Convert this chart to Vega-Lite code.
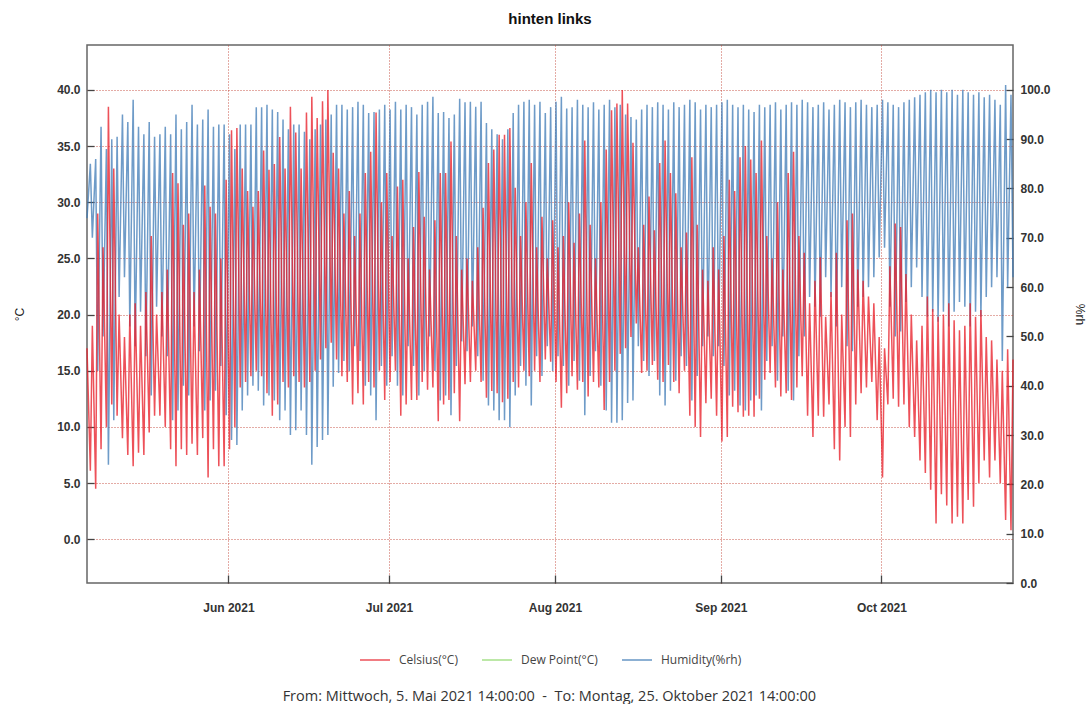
{
  "$schema": "https://vega.github.io/schema/vega-lite/v6.json",
  "background": "white",
  "padding": {"left": 12, "top": 11, "right": 4, "bottom": 0},
  "config": {
    "font": "Liberation Sans",
    "view": {"stroke": "#666", "strokeWidth": 1.5},
    "axis": {"labelFont": "Liberation Sans", "labelFontWeight": "bold", "labelFontSize": 12, "labelColor": "#333", "tickColor": "#444", "tickWidth": 1.3, "domain": false, "titleFont": "Liberation Sans", "titleFontWeight": "normal", "titleFontSize": 12, "titleColor": "#222", "gridColor": "#c0392b", "gridDash": [1, 2], "gridOpacity": 0.85, "gridWidth": 1},
    "legend": {"labelFont": "Open Sans", "labelFontSize": 12, "labelColor": "#444", "layout": {"bottom": {"anchor": "middle"}}}
  },
  "title": {"text": "From: Mittwoch, 5. Mai 2021 14:00:00\u00a0\u00a0-\u00a0\u00a0To: Montag, 25. Oktober 2021 14:00:00", "orient": "bottom", "anchor": "middle", "font": "Open Sans", "fontSize": 14.5, "fontWeight": "normal", "color": "#333", "offset": 24},
  "vconcat": [
    {
      "width": 926,
      "height": 538,
      "title": {"text": "hinten links", "font": "Liberation Sans", "fontSize": 15, "fontWeight": "bold", "color": "#111", "offset": 18},
      "data": {"values": [
        {"t":"2021-05-05T14:00","c":17,"h":74},
        {"t":"2021-05-06T05:00","c":6.1,"h":85},{"t":"2021-05-06T14:00","c":19,"h":70},
        {"t":"2021-05-07T05:00","c":4.5,"h":86},{"t":"2021-05-07T14:00","c":29,"h":43},
        {"t":"2021-05-08T05:00","c":8,"h":92.5},{"t":"2021-05-08T14:00","c":26,"h":50},
        {"t":"2021-05-09T05:00","c":10,"h":88},{"t":"2021-05-09T14:00","c":38.5,"h":24},
        {"t":"2021-05-10T05:00","c":12,"h":90},{"t":"2021-05-10T14:00","c":33,"h":33},
        {"t":"2021-05-11T05:00","c":11,"h":90.5},{"t":"2021-05-11T14:00","c":20,"h":58},
        {"t":"2021-05-12T05:00","c":9,"h":95},{"t":"2021-05-12T14:00","c":18,"h":62},
        {"t":"2021-05-13T05:00","c":7.5,"h":93.5},{"t":"2021-05-13T14:00","c":20,"h":52},
        {"t":"2021-05-14T05:00","c":6.5,"h":98},{"t":"2021-05-14T14:00","c":21,"h":48},
        {"t":"2021-05-15T05:00","c":7.7,"h":92.5},{"t":"2021-05-15T14:00","c":19,"h":55},
        {"t":"2021-05-16T05:00","c":7.5,"h":91},{"t":"2021-05-16T14:00","c":22,"h":46},
        {"t":"2021-05-17T05:00","c":9.5,"h":93.5},{"t":"2021-05-17T14:00","c":27,"h":38},
        {"t":"2021-05-18T05:00","c":11,"h":90.5},{"t":"2021-05-18T14:00","c":20,"h":56},
        {"t":"2021-05-19T05:00","c":11,"h":91},{"t":"2021-05-19T14:00","c":22,"h":50},
        {"t":"2021-05-20T05:00","c":10,"h":92.5},{"t":"2021-05-20T14:00","c":24,"h":46},
        {"t":"2021-05-21T05:00","c":8,"h":91},{"t":"2021-05-21T14:00","c":32.6,"h":33},
        {"t":"2021-05-22T05:00","c":6.5,"h":95},{"t":"2021-05-22T14:00","c":31.7,"h":35},
        {"t":"2021-05-23T05:00","c":8,"h":92},{"t":"2021-05-23T14:00","c":28,"h":40},
        {"t":"2021-05-24T05:00","c":7.5,"h":93.5},{"t":"2021-05-24T14:00","c":29,"h":38},
        {"t":"2021-05-25T05:00","c":8.5,"h":97},{"t":"2021-05-25T14:00","c":22,"h":52},
        {"t":"2021-05-26T05:00","c":7.5,"h":93},{"t":"2021-05-26T14:00","c":24,"h":47},
        {"t":"2021-05-27T05:00","c":9,"h":94},{"t":"2021-05-27T14:00","c":31.5,"h":35},
        {"t":"2021-05-28T05:00","c":5.5,"h":96},{"t":"2021-05-28T14:00","c":29.6,"h":37},
        {"t":"2021-05-29T05:00","c":8,"h":92.5},{"t":"2021-05-29T14:00","c":29,"h":39},
        {"t":"2021-05-30T05:00","c":6.5,"h":93},{"t":"2021-05-30T14:00","c":25,"h":44},
        {"t":"2021-05-31T05:00","c":6.5,"h":93},{"t":"2021-05-31T14:00","c":32,"h":34},
        {"t":"2021-06-01T05:00","c":8,"h":91},{"t":"2021-06-01T14:00","c":36.4,"h":29},
        {"t":"2021-06-02T05:00","c":10,"h":88},{"t":"2021-06-02T14:00","c":36.6,"h":28},
        {"t":"2021-06-03T05:00","c":13.5,"h":93},{"t":"2021-06-03T14:00","c":33,"h":35},
        {"t":"2021-06-04T05:00","c":14,"h":93},{"t":"2021-06-04T14:00","c":31,"h":38},
        {"t":"2021-06-05T05:00","c":14.5,"h":93},{"t":"2021-06-05T14:00","c":29.6,"h":40},
        {"t":"2021-06-06T05:00","c":15,"h":96.5},{"t":"2021-06-06T14:00","c":31,"h":39},
        {"t":"2021-06-07T05:00","c":14.5,"h":96.5},{"t":"2021-06-07T14:00","c":34.6,"h":36},
        {"t":"2021-06-08T05:00","c":13,"h":97},{"t":"2021-06-08T14:00","c":32.9,"h":38},
        {"t":"2021-06-09T05:00","c":11,"h":96},{"t":"2021-06-09T14:00","c":33.4,"h":37},
        {"t":"2021-06-10T05:00","c":12,"h":95.5},{"t":"2021-06-10T14:00","c":35.8,"h":33},
        {"t":"2021-06-11T05:00","c":14,"h":94},{"t":"2021-06-11T14:00","c":33,"h":35},
        {"t":"2021-06-12T05:00","c":13.5,"h":92},{"t":"2021-06-12T14:00","c":38.5,"h":30},
        {"t":"2021-06-13T05:00","c":14.5,"h":93},{"t":"2021-06-13T14:00","c":36.2,"h":31},
        {"t":"2021-06-14T05:00","c":14,"h":93},{"t":"2021-06-14T14:00","c":33,"h":35},
        {"t":"2021-06-15T05:00","c":13.5,"h":91.5},{"t":"2021-06-15T14:00","c":38,"h":30},
        {"t":"2021-06-16T05:00","c":14,"h":90},{"t":"2021-06-16T14:00","c":39.4,"h":24},
        {"t":"2021-06-17T05:00","c":15,"h":92},{"t":"2021-06-17T14:00","c":37.5,"h":27.6},
        {"t":"2021-06-18T05:00","c":16,"h":93},{"t":"2021-06-18T14:00","c":39,"h":29},
        {"t":"2021-06-19T05:00","c":17,"h":94},{"t":"2021-06-19T14:00","c":40,"h":30},
        {"t":"2021-06-20T05:00","c":17.5,"h":95},{"t":"2021-06-20T14:00","c":34.4,"h":39.8},
        {"t":"2021-06-21T05:00","c":16,"h":97},{"t":"2021-06-21T14:00","c":33,"h":42.6},
        {"t":"2021-06-22T05:00","c":14.5,"h":97},{"t":"2021-06-22T14:00","c":29,"h":45},
        {"t":"2021-06-23T05:00","c":14,"h":96},{"t":"2021-06-23T14:00","c":31,"h":43},
        {"t":"2021-06-24T05:00","c":12,"h":96.5},{"t":"2021-06-24T14:00","c":27,"h":48},
        {"t":"2021-06-25T05:00","c":13,"h":97.6},{"t":"2021-06-25T14:00","c":29,"h":45},
        {"t":"2021-06-26T05:00","c":12,"h":97},{"t":"2021-06-26T14:00","c":32.6,"h":40},
        {"t":"2021-06-27T05:00","c":14,"h":95.3},{"t":"2021-06-27T14:00","c":34.5,"h":38},
        {"t":"2021-06-28T05:00","c":13.5,"h":95.5},{"t":"2021-06-28T14:00","c":38,"h":33},
        {"t":"2021-06-29T05:00","c":15,"h":96},{"t":"2021-06-29T14:00","c":30,"h":44},
        {"t":"2021-06-30T05:00","c":12.4,"h":97},{"t":"2021-06-30T14:00","c":32.6,"h":40},
        {"t":"2021-07-01T05:00","c":14,"h":96},{"t":"2021-07-01T14:00","c":27,"h":46},
        {"t":"2021-07-02T05:00","c":15,"h":97.6},{"t":"2021-07-02T14:00","c":31.4,"h":40},
        {"t":"2021-07-03T05:00","c":11,"h":96},{"t":"2021-07-03T14:00","c":32,"h":38},
        {"t":"2021-07-04T05:00","c":12,"h":97},{"t":"2021-07-04T14:00","c":25,"h":48},
        {"t":"2021-07-05T05:00","c":12.4,"h":96.5},{"t":"2021-07-05T14:00","c":27.8,"h":44},
        {"t":"2021-07-06T05:00","c":12.4,"h":95},{"t":"2021-07-06T14:00","c":32.7,"h":38},
        {"t":"2021-07-07T05:00","c":14,"h":97},{"t":"2021-07-07T14:00","c":28.7,"h":43},
        {"t":"2021-07-08T05:00","c":13.3,"h":97.6},{"t":"2021-07-08T14:00","c":24,"h":50},
        {"t":"2021-07-09T05:00","c":13.5,"h":98.6},{"t":"2021-07-09T14:00","c":28.4,"h":43},
        {"t":"2021-07-10T05:00","c":10.5,"h":95.3},{"t":"2021-07-10T14:00","c":32.6,"h":37},
        {"t":"2021-07-11T05:00","c":12,"h":95.5},{"t":"2021-07-11T14:00","c":32.6,"h":38},
        {"t":"2021-07-12T05:00","c":12.4,"h":94.3},{"t":"2021-07-12T14:00","c":35.4,"h":34},
        {"t":"2021-07-13T05:00","c":13,"h":95},{"t":"2021-07-13T14:00","c":27,"h":44},
        {"t":"2021-07-14T05:00","c":10.5,"h":98.2},{"t":"2021-07-14T14:00","c":24,"h":49},
        {"t":"2021-07-15T05:00","c":13.8,"h":97.5},{"t":"2021-07-15T14:00","c":25,"h":47},
        {"t":"2021-07-16T05:00","c":14,"h":97.6},{"t":"2021-07-16T14:00","c":23,"h":52},
        {"t":"2021-07-17T05:00","c":15,"h":96.6},{"t":"2021-07-17T14:00","c":26,"h":46},
        {"t":"2021-07-18T05:00","c":14,"h":97.6},{"t":"2021-07-18T14:00","c":29.5,"h":41},
        {"t":"2021-07-19T05:00","c":12.6,"h":93.3},{"t":"2021-07-19T14:00","c":33.5,"h":36},
        {"t":"2021-07-20T05:00","c":13.2,"h":92},{"t":"2021-07-20T14:00","c":34.7,"h":35},
        {"t":"2021-07-21T05:00","c":13,"h":91},{"t":"2021-07-21T14:00","c":36,"h":33},
        {"t":"2021-07-22T05:00","c":12.2,"h":90},{"t":"2021-07-22T14:00","c":36,"h":33},
        {"t":"2021-07-23T05:00","c":12.5,"h":92},{"t":"2021-07-23T14:00","c":36.6,"h":31.6},
        {"t":"2021-07-24T05:00","c":14,"h":95.3},{"t":"2021-07-24T14:00","c":31.3,"h":38},
        {"t":"2021-07-25T05:00","c":13.5,"h":97},{"t":"2021-07-25T14:00","c":27,"h":44},
        {"t":"2021-07-26T05:00","c":15,"h":97.6},{"t":"2021-07-26T14:00","c":30,"h":40},
        {"t":"2021-07-27T05:00","c":14.5,"h":98},{"t":"2021-07-27T14:00","c":33.5,"h":36},
        {"t":"2021-07-28T05:00","c":15,"h":97},{"t":"2021-07-28T14:00","c":26,"h":46},
        {"t":"2021-07-29T05:00","c":14,"h":97.6},{"t":"2021-07-29T14:00","c":28.7,"h":42},
        {"t":"2021-07-30T05:00","c":16,"h":95.3},{"t":"2021-07-30T14:00","c":25,"h":48},
        {"t":"2021-07-31T05:00","c":15.8,"h":96.5},{"t":"2021-07-31T14:00","c":28.4,"h":43},
        {"t":"2021-08-01T05:00","c":14,"h":97.6},{"t":"2021-08-01T14:00","c":26,"h":46},
        {"t":"2021-08-02T05:00","c":11.7,"h":98.6},{"t":"2021-08-02T14:00","c":27,"h":44},
        {"t":"2021-08-03T05:00","c":13,"h":96.2},{"t":"2021-08-03T14:00","c":30,"h":40},
        {"t":"2021-08-04T05:00","c":14.5,"h":96.5},{"t":"2021-08-04T14:00","c":26.4,"h":45},
        {"t":"2021-08-05T05:00","c":13.3,"h":98},{"t":"2021-08-05T14:00","c":29,"h":41},
        {"t":"2021-08-06T05:00","c":14,"h":97},{"t":"2021-08-06T14:00","c":35.5,"h":34},
        {"t":"2021-08-07T05:00","c":12.7,"h":96.5},{"t":"2021-08-07T14:00","c":28,"h":42},
        {"t":"2021-08-08T05:00","c":14,"h":97.5},{"t":"2021-08-08T14:00","c":25,"h":47},
        {"t":"2021-08-09T05:00","c":13.5,"h":96},{"t":"2021-08-09T14:00","c":30,"h":40},
        {"t":"2021-08-10T05:00","c":11.5,"h":97},{"t":"2021-08-10T14:00","c":34.7,"h":35},
        {"t":"2021-08-11T05:00","c":14,"h":98},{"t":"2021-08-11T14:00","c":38.2,"h":32.5},
        {"t":"2021-08-12T05:00","c":15,"h":96.5},{"t":"2021-08-12T14:00","c":38.8,"h":32.5},
        {"t":"2021-08-13T05:00","c":16.5,"h":97},{"t":"2021-08-13T14:00","c":40,"h":33},
        {"t":"2021-08-14T05:00","c":17,"h":95},{"t":"2021-08-14T14:00","c":38.8,"h":36.5},
        {"t":"2021-08-15T05:00","c":18,"h":94.5},{"t":"2021-08-15T14:00","c":35.3,"h":37},
        {"t":"2021-08-16T05:00","c":19.2,"h":94},{"t":"2021-08-16T14:00","c":26,"h":48},
        {"t":"2021-08-17T05:00","c":14.8,"h":96},{"t":"2021-08-17T14:00","c":28,"h":45},
        {"t":"2021-08-18T05:00","c":15,"h":97},{"t":"2021-08-18T14:00","c":30.5,"h":42},
        {"t":"2021-08-19T05:00","c":15.5,"h":96.5},{"t":"2021-08-19T14:00","c":27.5,"h":45},
        {"t":"2021-08-20T05:00","c":14.2,"h":97.5},{"t":"2021-08-20T14:00","c":33.5,"h":38},
        {"t":"2021-08-21T05:00","c":14,"h":97},{"t":"2021-08-21T14:00","c":35.5,"h":36},
        {"t":"2021-08-22T05:00","c":15.5,"h":96},{"t":"2021-08-22T14:00","c":32.6,"h":39},
        {"t":"2021-08-23T05:00","c":14,"h":97.5},{"t":"2021-08-23T14:00","c":30.8,"h":41},
        {"t":"2021-08-24T05:00","c":13,"h":96.5},{"t":"2021-08-24T14:00","c":26,"h":46},
        {"t":"2021-08-25T05:00","c":15,"h":97},{"t":"2021-08-25T14:00","c":27.3,"h":44},
        {"t":"2021-08-26T05:00","c":11,"h":98},{"t":"2021-08-26T14:00","c":34,"h":37},
        {"t":"2021-08-27T05:00","c":10,"h":97.5},{"t":"2021-08-27T14:00","c":28,"h":42},
        {"t":"2021-08-28T05:00","c":9.1,"h":96},{"t":"2021-08-28T14:00","c":24,"h":48},
        {"t":"2021-08-29T05:00","c":12.1,"h":97},{"t":"2021-08-29T14:00","c":23,"h":50},
        {"t":"2021-08-30T05:00","c":12.5,"h":96.5},{"t":"2021-08-30T14:00","c":26,"h":46},
        {"t":"2021-08-31T05:00","c":11,"h":97},{"t":"2021-08-31T14:00","c":24,"h":48},
        {"t":"2021-09-01T05:00","c":8.7,"h":97.5},{"t":"2021-09-01T14:00","c":27,"h":44},
        {"t":"2021-09-02T05:00","c":9.1,"h":98},{"t":"2021-09-02T14:00","c":32,"h":38},
        {"t":"2021-09-03T05:00","c":11.8,"h":97},{"t":"2021-09-03T14:00","c":31,"h":39},
        {"t":"2021-09-04T05:00","c":11.3,"h":96.5},{"t":"2021-09-04T14:00","c":34,"h":36},
        {"t":"2021-09-05T05:00","c":10.9,"h":97},{"t":"2021-09-05T14:00","c":35,"h":35},
        {"t":"2021-09-06T05:00","c":11,"h":96},{"t":"2021-09-06T14:00","c":33.8,"h":37},
        {"t":"2021-09-07T05:00","c":10.9,"h":95.5},{"t":"2021-09-07T14:00","c":32.6,"h":38},
        {"t":"2021-09-08T05:00","c":12.5,"h":97},{"t":"2021-09-08T14:00","c":35.5,"h":35},
        {"t":"2021-09-09T05:00","c":14.2,"h":96.5},{"t":"2021-09-09T14:00","c":27,"h":45},
        {"t":"2021-09-10T05:00","c":14.8,"h":97},{"t":"2021-09-10T14:00","c":25,"h":48},
        {"t":"2021-09-11T05:00","c":13.5,"h":97.5},{"t":"2021-09-11T14:00","c":30,"h":41},
        {"t":"2021-09-12T05:00","c":12.7,"h":96},{"t":"2021-09-12T14:00","c":24,"h":50},
        {"t":"2021-09-13T05:00","c":13,"h":97},{"t":"2021-09-13T14:00","c":32.6,"h":39},
        {"t":"2021-09-14T05:00","c":12.4,"h":97.5},{"t":"2021-09-14T14:00","c":34.5,"h":37},
        {"t":"2021-09-15T05:00","c":13.5,"h":97},{"t":"2021-09-15T14:00","c":27,"h":46},
        {"t":"2021-09-16T05:00","c":14.5,"h":98},{"t":"2021-09-16T14:00","c":25.5,"h":50},
        {"t":"2021-09-17T05:00","c":11,"h":97.5},{"t":"2021-09-17T14:00","c":21,"h":58},
        {"t":"2021-09-18T05:00","c":9.1,"h":96.5},{"t":"2021-09-18T14:00","c":23,"h":56},
        {"t":"2021-09-19T05:00","c":11,"h":97},{"t":"2021-09-19T14:00","c":25.1,"h":54},
        {"t":"2021-09-20T05:00","c":10.9,"h":97.5},{"t":"2021-09-20T14:00","c":19.8,"h":62},
        {"t":"2021-09-21T05:00","c":12,"h":96},{"t":"2021-09-21T14:00","c":22,"h":58},
        {"t":"2021-09-22T05:00","c":8,"h":97},{"t":"2021-09-22T14:00","c":25.5,"h":52},
        {"t":"2021-09-23T05:00","c":7,"h":98},{"t":"2021-09-23T14:00","c":20,"h":60},
        {"t":"2021-09-24T05:00","c":10,"h":97.5},{"t":"2021-09-24T14:00","c":28.4,"h":48},
        {"t":"2021-09-25T05:00","c":9.1,"h":96.5},{"t":"2021-09-25T14:00","c":29,"h":47},
        {"t":"2021-09-26T05:00","c":12,"h":97.5},{"t":"2021-09-26T14:00","c":24,"h":56},
        {"t":"2021-09-27T05:00","c":13,"h":98},{"t":"2021-09-27T14:00","c":23,"h":58},
        {"t":"2021-09-28T05:00","c":13.5,"h":97},{"t":"2021-09-28T14:00","c":21.6,"h":60},
        {"t":"2021-09-29T05:00","c":14,"h":96.5},{"t":"2021-09-29T14:00","c":21,"h":62},
        {"t":"2021-09-30T05:00","c":10.6,"h":97},{"t":"2021-09-30T14:00","c":18,"h":66},
        {"t":"2021-10-01T05:00","c":5.5,"h":98},{"t":"2021-10-01T14:00","c":17,"h":68},
        {"t":"2021-10-02T05:00","c":12,"h":97.5},{"t":"2021-10-02T14:00","c":24.3,"h":56},
        {"t":"2021-10-03T05:00","c":12.5,"h":97},{"t":"2021-10-03T14:00","c":28.1,"h":50},
        {"t":"2021-10-04T05:00","c":11.8,"h":96.5},{"t":"2021-10-04T14:00","c":27.8,"h":51},
        {"t":"2021-10-05T05:00","c":12,"h":97.5},{"t":"2021-10-05T14:00","c":23.6,"h":57},
        {"t":"2021-10-06T05:00","c":10,"h":98},{"t":"2021-10-06T14:00","c":20,"h":60},
        {"t":"2021-10-07T05:00","c":9.1,"h":98.5},{"t":"2021-10-07T14:00","c":17.7,"h":64},
        {"t":"2021-10-08T05:00","c":7,"h":99},{"t":"2021-10-08T14:00","c":19,"h":58},
        {"t":"2021-10-09T05:00","c":5.9,"h":99.5},{"t":"2021-10-09T14:00","c":21.6,"h":54},
        {"t":"2021-10-10T05:00","c":4.4,"h":100},{"t":"2021-10-10T14:00","c":20.5,"h":55},
        {"t":"2021-10-11T05:00","c":1.4,"h":99.5},{"t":"2021-10-11T14:00","c":19.8,"h":53},
        {"t":"2021-10-12T05:00","c":4,"h":100},{"t":"2021-10-12T14:00","c":20,"h":55},
        {"t":"2021-10-13T05:00","c":3,"h":99.5},{"t":"2021-10-13T14:00","c":21,"h":52},
        {"t":"2021-10-14T05:00","c":1.4,"h":100},{"t":"2021-10-14T14:00","c":19.5,"h":55},
        {"t":"2021-10-15T05:00","c":2,"h":99},{"t":"2021-10-15T14:00","c":18.6,"h":57},
        {"t":"2021-10-16T05:00","c":1.4,"h":100},{"t":"2021-10-16T14:00","c":19,"h":56},
        {"t":"2021-10-17T05:00","c":3.5,"h":99.5},{"t":"2021-10-17T14:00","c":21,"h":52},
        {"t":"2021-10-18T05:00","c":2.9,"h":99},{"t":"2021-10-18T14:00","c":19.8,"h":55},
        {"t":"2021-10-19T05:00","c":5,"h":99.5},{"t":"2021-10-19T14:00","c":20.4,"h":54},
        {"t":"2021-10-20T05:00","c":7,"h":98.5},{"t":"2021-10-20T14:00","c":18,"h":58},
        {"t":"2021-10-21T05:00","c":5.5,"h":99},{"t":"2021-10-21T14:00","c":17.7,"h":60},
        {"t":"2021-10-22T05:00","c":7,"h":98},{"t":"2021-10-22T14:00","c":16,"h":62},
        {"t":"2021-10-23T05:00","c":5,"h":97},{"t":"2021-10-23T14:00","c":15,"h":45},
        {"t":"2021-10-24T05:00","c":1.7,"h":101},{"t":"2021-10-24T14:00","c":16.9,"h":60},
        {"t":"2021-10-25T05:00","c":0.8,"h":99},{"t":"2021-10-25T14:00","c":16,"h":62}
      ]},
      "layer": [
        {
          "mark": {"type": "line", "strokeWidth": 1.5, "opacity": 0.75, "interpolate": "linear"},
          "encoding": {
            "x": {"field": "t", "type": "temporal",
              "scale": {"domain": [{"year": 2021, "month": 5, "date": 5, "hours": 14}, {"year": 2021, "month": 10, "date": 25, "hours": 14}]},
              "axis": {"title": null, "format": "%b %Y", "values": [{"year": 2021, "month": 6, "date": 1}, {"year": 2021, "month": 7, "date": 1}, {"year": 2021, "month": 8, "date": 1}, {"year": 2021, "month": 9, "date": 1}, {"year": 2021, "month": 10, "date": 1}], "grid": true, "tickSize": -8, "labelPadding": 27}},
            "y": {"field": "h", "type": "quantitative",
              "scale": {"domain": [0, 109.1], "nice": false, "zero": false},
              "axis": {"orient": "right", "title": "%rh", "values": [0, 10, 20, 30, 40, 50, 60, 70, 80, 90, 100], "format": ".1f", "grid": false, "tickSize": -7, "labelPadding": 14, "titlePadding": 22}},
            "color": {"datum": "Humidity(%rh)", "type": "nominal",
              "scale": {"domain": ["Celsius(°C)", "Dew Point(°C)", "Humidity(%rh)"], "range": ["#e8202a", "#8ed86a", "#3d7ab5"]},
              "legend": {"orient": "bottom", "direction": "horizontal", "title": null, "symbolType": "stroke", "symbolSize": 900, "symbolStrokeWidth": 1.5, "symbolOpacity": 0.8, "labelOffset": 8, "columnPadding": 21, "offset": 30}}
          }
        },
        {
          "mark": {"type": "line", "strokeWidth": 1.5, "opacity": 0.78, "interpolate": "linear"},
          "encoding": {
            "x": {"field": "t", "type": "temporal"},
            "y": {"field": "c", "type": "quantitative",
              "scale": {"domain": [-3.9, 44.0], "nice": false, "zero": false},
              "axis": {"orient": "left", "title": "°C", "values": [0, 5, 10, 15, 20, 25, 30, 35, 40], "format": ".1f", "grid": true, "tickSize": -7, "labelPadding": 14, "titlePadding": 30}},
            "color": {"datum": "Celsius(°C)", "type": "nominal",
              "scale": {"domain": ["Celsius(°C)", "Dew Point(°C)", "Humidity(%rh)"], "range": ["#e8202a", "#8ed86a", "#3d7ab5"]}}
          }
        }
      ],
      "resolve": {"scale": {"y": "independent"}, "axis": {"y": "independent"}}
    }
  ]
}
